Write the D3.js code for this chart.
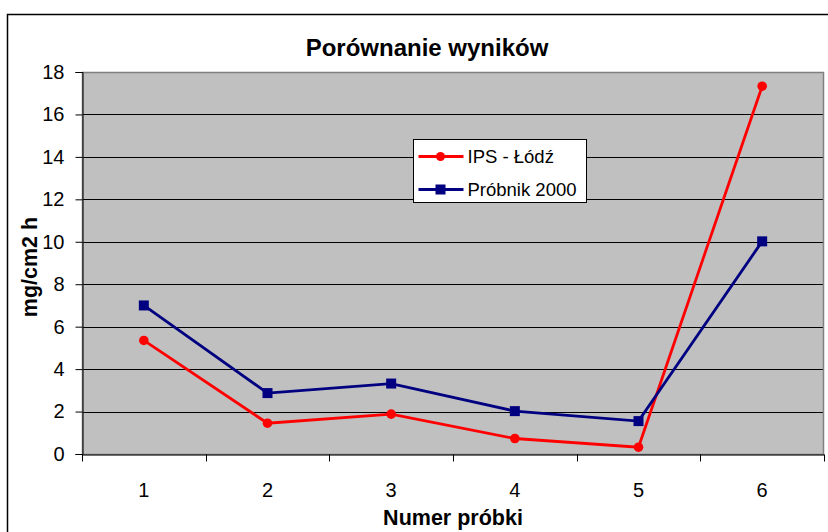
<!DOCTYPE html>
<html lang="pl">
<head>
  <meta charset="UTF-8">
  <script src="https://cdn.jsdelivr.net/npm/d3@7"></script>
  <title>Porównanie wyników</title>
  <style>
    body { margin: 0; background: #fff; }
    text { font-family: "Liberation Sans", Arial, sans-serif; }
  </style>
</head>
<body>
<script>
// dane
const probki = ["1", "2", "3", "4", "5", "6"];
const ipsLodz = [5.35, 1.45, 1.88, 0.73, 0.32, 17.33];
const probnik2000 = [7.0, 2.87, 3.32, 2.02, 1.55, 10.02];
const yTicks = [0, 2, 4, 6, 8, 10, 12, 14, 16, 18];
const seriesNames = ["IPS - Łódź", "Próbnik 2000"];

const w = 828, h = 532;
const plot = { left: 82, top: 72, right: 824, bottom: 454 };

const svg = d3.select("body").append("svg")
  .attr("width", w)
  .attr("height", h);

// ramka całego wykresu
svg.append("rect")
  .attr("x", 7.5).attr("y", 14.5)
  .attr("width", 840).attr("height", 540)
  .attr("fill", "#fff")
  .attr("stroke", "#000")
  .attr("stroke-width", 1.5);

const x = d3.scaleBand().domain(probki).range([plot.left, plot.right]);
const y = d3.scaleLinear().domain([0, 18]).range([plot.bottom, plot.top]);

// tło obszaru wykresu
svg.append("rect")
  .attr("x", plot.left).attr("y", plot.top)
  .attr("width", plot.right - plot.left)
  .attr("height", plot.bottom - plot.top)
  .attr("fill", "#c0c0c0");

// linie siatki
svg.append("g")
  .selectAll("line")
  .data(yTicks.filter(d => d > 0 && d < 18))
  .enter().append("line")
  .attr("x1", plot.left).attr("x2", plot.right)
  .attr("y1", d => Math.round(y(d)) + 0.5)
  .attr("y2", d => Math.round(y(d)) + 0.5)
  .attr("stroke", "#000")
  .attr("stroke-width", 1);

svg.append("rect")
  .attr("x", plot.left + 0.5).attr("y", plot.top + 0.5)
  .attr("width", plot.right - plot.left - 1)
  .attr("height", plot.bottom - plot.top)
  .attr("fill", "none")
  .attr("stroke", "#808080")
  .attr("stroke-width", 1.5);

// oś Y
const yAxis = svg.append("g")
  .attr("transform", `translate(${plot.left + 0.5},0)`)
  .call(d3.axisLeft(y).tickValues(yTicks).tickSize(7).tickPadding(11));
yAxis.select(".domain").attr("stroke", "#000");
yAxis.selectAll(".tick line").attr("stroke", "#000");
yAxis.selectAll("text")
  .attr("font-size", 20)
  .attr("fill", "#000")
  .style("font-family", "'Liberation Sans', Arial, sans-serif");

// oś X
const xAxis = svg.append("g")
  .attr("transform", `translate(0,${plot.bottom + 0.5})`)
  .call(d3.axisBottom(x).tickSize(0).tickPadding(28));
xAxis.select(".domain").attr("stroke", "#000");
xAxis.selectAll("text")
  .attr("font-size", 20)
  .attr("fill", "#000")
  .style("font-family", "'Liberation Sans', Arial, sans-serif");
// znaczniki między kategoriami
xAxis.selectAll(".sep")
  .data(probki.concat(["end"]))
  .enter().append("line")
  .attr("class", "sep")
  .attr("x1", (d, i) => Math.round(plot.left + i * x.step()) + 0.5)
  .attr("x2", (d, i) => Math.round(plot.left + i * x.step()) + 0.5)
  .attr("y1", 0).attr("y2", 7)
  .attr("stroke", "#000");

const line = d3.line()
  .x((d, i) => x(probki[i]) + x.bandwidth() / 2)
  .y(d => y(d));

// IPS - Łódź
svg.append("path")
  .datum(ipsLodz)
  .attr("d", line)
  .attr("fill", "none")
  .attr("stroke", "#ff0000")
  .attr("stroke-width", 2.8);
svg.append("g").selectAll("circle")
  .data(ipsLodz)
  .enter().append("circle")
  .attr("cx", (d, i) => x(probki[i]) + x.bandwidth() / 2)
  .attr("cy", d => y(d))
  .attr("r", 4.8)
  .attr("fill", "#ff0000");

// Próbnik 2000
svg.append("path")
  .datum(probnik2000)
  .attr("d", line)
  .attr("fill", "none")
  .attr("stroke", "#000080")
  .attr("stroke-width", 2.8);
svg.append("g").selectAll("rect")
  .data(probnik2000)
  .enter().append("rect")
  .attr("x", (d, i) => x(probki[i]) + x.bandwidth() / 2 - 5)
  .attr("y", d => y(d) - 5)
  .attr("width", 10).attr("height", 10)
  .attr("fill", "#000080");

// legenda
const leg = svg.append("g").attr("transform", "translate(413.5,139.5)");
leg.append("rect")
  .attr("width", 173).attr("height", 63)
  .attr("fill", "#fff")
  .attr("stroke", "#000");
const colors = ["#ff0000", "#000080"];
seriesNames.forEach((name, i) => {
  const cy = 17 + i * 33;
  leg.append("line")
    .attr("x1", 5).attr("x2", 50)
    .attr("y1", cy).attr("y2", cy)
    .attr("stroke", colors[i]).attr("stroke-width", 2.8);
  if (i === 0) {
    leg.append("circle").attr("cx", 27).attr("cy", cy).attr("r", 4.5).attr("fill", colors[i]);
  } else {
    leg.append("rect").attr("x", 22).attr("y", cy - 5).attr("width", 10).attr("height", 10).attr("fill", colors[i]);
  }
  leg.append("text")
    .attr("x", 54).attr("y", cy + 6.5)
    .attr("font-size", 18.5)
    .text(name);
});

// tytuły
svg.append("text")
  .attr("x", 427).attr("y", 56)
  .attr("text-anchor", "middle")
  .attr("font-size", 24)
  .attr("font-weight", "bold")
  .text("Porównanie wyników");

svg.append("text")
  .attr("x", 453).attr("y", 525)
  .attr("text-anchor", "middle")
  .attr("font-size", 21.5)
  .attr("font-weight", "bold")
  .text("Numer próbki");

svg.append("text")
  .attr("transform", "translate(37,267) rotate(-90)")
  .attr("text-anchor", "middle")
  .attr("font-size", 21.5)
  .attr("font-weight", "bold")
  .text("mg/cm2 h");
</script>
</body>
</html>
